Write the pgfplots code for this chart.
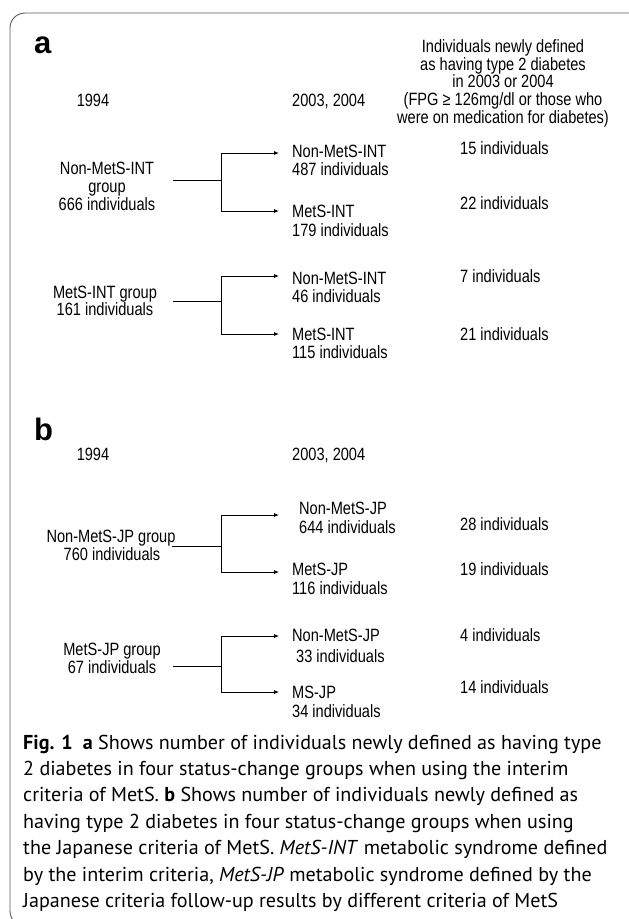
\documentclass[border=0pt]{standalone}
\usepackage{pgfplots}
\pgfplotsset{compat=1.18}
\usepackage{fontspec}
\setmainfont{Liberation Sans}
\newfontfamily\narrowfont[FakeStretch=0.82]{Liberation Sans}
\newfontfamily\capfont{PT Sans}
\usetikzlibrary{arrows.meta}
\newcommand\diag{\narrowfont\fontsize{17.8}{17.5}\selectfont}
\newcommand\capf{\capfont\fontsize{20.1}{26}\selectfont}
\newcommand\TL[3]{\node[anchor=base west,inner sep=0pt,font=\diag] at (axis cs:#1,#2) {#3};}
\newcommand\TC[3]{\node[anchor=base,inner sep=0pt,font=\diag] at (axis cs:#1,#2) {#3};}
\newcommand\CL[2]{\node[anchor=base west,inner sep=0pt,font=\capf] at (axis cs:23,#1) {#2};}
\begin{document}
\begin{tikzpicture}
\begin{axis}[width=629pt,height=919pt,scale only axis,
  xmin=0,xmax=629,ymin=0,ymax=919,y dir=reverse,hide axis,clip=false]
% frame
\addplot[color=black!65,line width=0.9pt,rounded corners=15pt] coordinates {(640,13)(10,13)(10,926)(40,926)};
% ---- part a brackets
\addplot[black,line width=0.8pt] coordinates {(173,180)(221,180)};
\addplot[black,line width=0.8pt] coordinates {(221,153)(221,211)};
\addplot[black,line width=0.8pt,-{Latex[length=5pt,width=4pt]}] coordinates {(221,153)(279,153)};
\addplot[black,line width=0.8pt,-{Latex[length=5pt,width=4pt]}] coordinates {(221,211)(279,211)};
\addplot[black,line width=0.8pt] coordinates {(173,301)(221,301)};
\addplot[black,line width=0.8pt] coordinates {(221,276)(221,334)};
\addplot[black,line width=0.8pt,-{Latex[length=5pt,width=4pt]}] coordinates {(221,276)(279,276)};
\addplot[black,line width=0.8pt,-{Latex[length=5pt,width=4pt]}] coordinates {(221,334)(279,334)};
% ---- part b brackets
\addplot[black,line width=0.8pt] coordinates {(172,546)(221,546)};
\addplot[black,line width=0.8pt] coordinates {(221,515)(221,572)};
\addplot[black,line width=0.8pt,-{Latex[length=5pt,width=4pt]}] coordinates {(221,515)(279,515)};
\addplot[black,line width=0.8pt,-{Latex[length=5pt,width=4pt]}] coordinates {(221,572)(279,572)};
\addplot[black,line width=0.8pt] coordinates {(173,666)(221,666)};
\addplot[black,line width=0.8pt] coordinates {(221,636)(221,692)};
\addplot[black,line width=0.8pt,-{Latex[length=5pt,width=4pt]}] coordinates {(221,636)(279,636)};
\addplot[black,line width=0.8pt,-{Latex[length=5pt,width=4pt]}] coordinates {(221,692)(279,692)};
% ---- part a text
\node[anchor=base west,inner sep=0pt,font=\fontsize{31}{31}\selectfont\bfseries] at (axis cs:34,53) {a};
\TC{93}{106}{1994}
\TL{292}{106}{2003, 2004}
\TC{503}{52.5}{Individuals newly defined}
\TC{503}{70}{as having type 2 diabetes}
\TC{503}{87.5}{in 2003 or 2004}
\TC{503}{105.5}{(FPG ≥ 126mg/dl or those who}
\TC{503}{123}{were on medication for diabetes)}
\TC{107}{174.5}{Non-MetS-INT}
\TC{107}{192.5}{group}
\TC{107}{210.5}{666 individuals}
\TL{292}{157.5}{Non-MetS-INT}
\TL{292}{175.5}{487 individuals}
\TL{292}{217.5}{MetS-INT}
\TL{292}{236.5}{179 individuals}
\TL{460}{154.5}{15 individuals}
\TL{460}{209.5}{22 individuals}
\TC{105}{298.5}{MetS-INT group}
\TC{105}{315.5}{161 individuals}
\TL{292}{284.5}{Non-MetS-INT}
\TL{292}{302.5}{46 individuals}
\TL{292}{340.5}{MetS-INT}
\TL{292}{358.5}{115 individuals}
\TL{460}{282.5}{7 individuals}
\TL{460}{340.5}{21 individuals}
% ---- part b text
\node[anchor=base west,inner sep=0pt,font=\fontsize{31}{31}\selectfont\bfseries] at (axis cs:34,440) {b};
\TC{93}{460.5}{1994}
\TL{292}{460.5}{2003, 2004}
\TC{111}{542.5}{Non-MetS-JP group}
\TC{112}{560.5}{760 individuals}
\TL{299}{514.5}{Non-MetS-JP}
\TL{299}{533.5}{644 individuals}
\TL{460}{530.5}{28 individuals}
\TL{292}{575.5}{MetS-JP}
\TL{292}{594.5}{116 individuals}
\TL{460}{575.5}{19 individuals}
\TC{112}{655.5}{MetS-JP group}
\TC{112}{673.5}{67 individuals}
\TL{292}{641.5}{Non-MetS-JP}
\TL{296}{662.5}{33 individuals}
\TL{460}{641.5}{4 individuals}
\TL{292}{698.5}{MS-JP}
\TL{292}{717.5}{34 individuals}
\TL{460}{693.5}{14 individuals}
% ---- caption
\CL{749}{\textbf{Fig. 1}\enspace\textbf{a} Shows number of individuals newly defined as having type}
\CL{775.4}{2 diabetes in four status-change groups when using the interim}
\CL{801.8}{criteria of MetS. \textbf{b} Shows number of individuals newly defined as}
\CL{828.2}{having type 2 diabetes in four status-change groups when using}
\CL{854.6}{the Japanese criteria of MetS. \textit{MetS-INT} metabolic syndrome defined}
\CL{881}{by the interim criteria, \textit{MetS-JP} metabolic syndrome defined by the}
\CL{907.4}{Japanese criteria follow-up results by different criteria of MetS}
\end{axis}
\pgfresetboundingbox
\useasboundingbox (0,0) rectangle (629pt,919pt);
\end{tikzpicture}
\end{document}
